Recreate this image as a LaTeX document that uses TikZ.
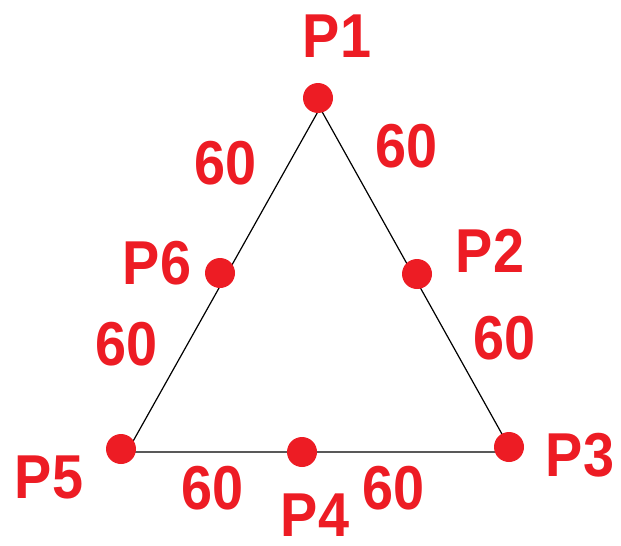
\documentclass[tikz,border=0pt]{standalone}
\usepackage{fontspec}
\setmainfont{Liberation Sans}
\definecolor{pred}{RGB}{237,28,36}
\begin{document}
\begin{tikzpicture}[x=1pt,y=-1pt,
  dot/.style={circle,fill=pred,inner sep=0pt,minimum size=30pt},
  lbl/.style={text=pred,inner sep=0pt,font=\fontsize{62}{62}\selectfont\bfseries,xscale=0.9},
  side/.style={draw=black,line width=1.2pt}]
\useasboundingbox (0,0) rectangle (621,546);
% triangle corners
\coordinate (A) at (320,108);
\coordinate (B) at (127,452);
\coordinate (C) at (512,452);
\draw[side] (A) -- (B) -- (C) -- cycle;
% points
\node[dot] (p1) at (318,98) {};
\node[dot] (p2) at (417,274) {};
\node[dot] (p3) at (509,447) {};
\node[dot] (p4) at (302,452) {};
\node[dot] (p5) at (121,449) {};
\node[dot] (p6) at (220,273) {};
% labels
\node[lbl] (l1) at (337,36) {P1};
\node[lbl] (l2) at (490,251) {P2};
\node[lbl] (l3) at (580,455) {P3};
\node[lbl] (l4) at (315,515) {P4};
\node[lbl] (l5) at (49,477) {P5};
\node[lbl] (l6) at (157,263) {P6};
\node[lbl] (d16) at (226,163) {60};
\node[lbl] (d12) at (407,146) {60};
\node[lbl] (d65) at (127,344) {60};
\node[lbl] (d23) at (505,338) {60};
\node[lbl] (d54) at (213,488) {60};
\node[lbl] (d43) at (394,488) {60};
\end{tikzpicture}
\end{document}
